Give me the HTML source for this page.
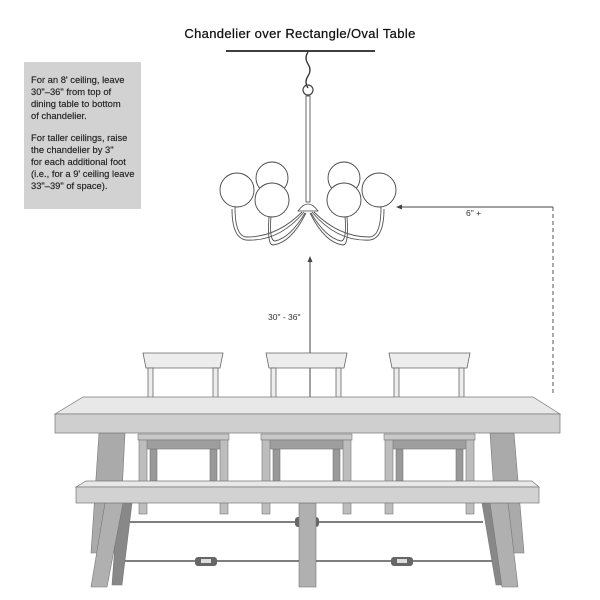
<!DOCTYPE html>
<html><head><style>
body{margin:0;background:#fff;}
svg{display:block}
text{font-family:"Liberation Sans",Arial,sans-serif;}
</style></head><body>
<svg width="600" height="600" viewBox="0 0 600 600" xmlns="http://www.w3.org/2000/svg">
<text x="300" y="38" font-size="13" text-anchor="middle" fill="#111" letter-spacing="0.35" stroke="#111" stroke-width="0.25">Chandelier over Rectangle/Oval Table</text>
<rect x="24" y="62" width="117" height="147" fill="#d2d2d2"/>
<g font-size="9.4" fill="#222" stroke="#222" stroke-width="0.15">
<text x="31" y="83">For an 8' ceiling, leave</text>
<text x="31" y="95">30"–36" from top of</text>
<text x="31" y="107">dining table to bottom</text>
<text x="31" y="119">of chandelier.</text>
<text x="31" y="141">For taller ceilings, raise</text>
<text x="31" y="153">the chandelier by 3"</text>
<text x="31" y="165">for each additional foot</text>
<text x="31" y="177">(i.e., for a 9' ceiling leave</text>
<text x="31" y="189">33"–39" of space).</text>
</g>
<!-- chandelier -->
<line x1="226" y1="51" x2="375" y2="51" stroke="#222" stroke-width="1.8"/>
<path d="M308 52 q-4 6 0 12 q4 6 0 12 q-4 6 0 12" fill="none" stroke="#333" stroke-width="1.3"/>
<circle cx="308" cy="90" r="5" fill="none" stroke="#444" stroke-width="1.2"/>
<rect x="306" y="96" width="4" height="106" fill="#fff" stroke="#444" stroke-width="0.8"/>
<path d="M298 211 q10 -14 20 0 z" fill="#fff" stroke="#444" stroke-width="0.8"/>
<g fill="none" stroke="#555" stroke-width="0.9">
<path d="M302 212 q-25 25 -55 25 q-12 0 -12 -30"/><path d="M304 212 q-25 30 -58 28 q-14 -2 -14 -31"/>
<path d="M305 213 q-15 25 -30 28 q-6 0 -4 -25"/><path d="M306 213 q-15 30 -33 32 q-6 0 -4 -28"/>
<path d="M314 212 q25 25 55 25 q12 0 12 -30"/><path d="M312 212 q25 30 58 28 q14 -2 14 -31"/>
<path d="M311 213 q15 25 30 28 q6 0 4 -25"/><path d="M310 213 q15 30 33 32 q6 0 4 -28"/>
</g>
<g fill="#fff" stroke="#444" stroke-width="0.9">
<circle cx="272" cy="178" r="16"/><circle cx="344" cy="178" r="16"/>
<circle cx="237" cy="190" r="17"/><circle cx="379" cy="190" r="17"/>
<circle cx="272" cy="200" r="17"/><circle cx="344" cy="200" r="17"/>
</g>
<!-- dimensions -->
<line x1="553" y1="207" x2="400" y2="207" stroke="#444" stroke-width="1"/>
<path d="M396 207 l6 -2.5 v5 z" fill="#444"/>
<line x1="553" y1="207" x2="553" y2="396" stroke="#555" stroke-width="1" stroke-dasharray="4,3"/>
<text x="466" y="216" font-size="8.5" fill="#333">6" +</text>
<line x1="310" y1="260" x2="310" y2="404" stroke="#444" stroke-width="1"/>
<path d="M310 256 l-2.5 6 h5 z M310 408 l-2.5 -6 h5 z" fill="#444"/>
<text x="268" y="320" font-size="8.5" fill="#333">30" - 36"</text>
<!-- chair backs -->
<g stroke="#666" stroke-width="0.8" fill="#ededed">
<path d="M143 353 h80 l-3 15 h-74 z"/><rect x="148" y="368" width="5" height="30"/><rect x="213" y="368" width="5" height="30"/>
<path d="M266 353 h81 l-3 15 h-75 z"/><rect x="271" y="368" width="5" height="30"/><rect x="336" y="368" width="5" height="30"/>
<path d="M389 353 h81 l-3 15 h-75 z"/><rect x="394" y="368" width="5" height="30"/><rect x="459" y="368" width="5" height="30"/>
</g>
<!-- table legs -->
<g stroke="#777" stroke-width="0.6">
<path d="M99 433 h26 l-6 120 h-28 z" fill="#aaa"/>
<path d="M490 433 h24 l10 120 h-26 z" fill="#aaa"/>
</g>
<!-- table top -->
<path d="M83 397 h450 l27 17 h-505 z" fill="#e8e8e8" stroke="#777" stroke-width="0.7"/>
<rect x="55" y="414" width="505" height="19" fill="#cfcfcf" stroke="#777" stroke-width="0.7"/>
<!-- seats -->
<g stroke="#777" stroke-width="0.6">
<g fill="#999"><rect x="150" y="449" width="7" height="32"/><rect x="210" y="449" width="7" height="32"/><rect x="273" y="449" width="7" height="32"/><rect x="333" y="449" width="7" height="32"/><rect x="396" y="449" width="7" height="32"/><rect x="456" y="449" width="7" height="32"/></g>
<g fill="#c8c8c8"><rect x="138" y="434" width="91" height="6"/><rect x="261" y="434" width="91" height="6"/><rect x="384" y="434" width="91" height="6"/></g>
<g fill="#9e9e9e"><rect x="146" y="440" width="75" height="9"/><rect x="269" y="440" width="75" height="9"/><rect x="392" y="440" width="75" height="9"/></g>
<g fill="#bdbdbd"><rect x="139" y="440" width="8" height="74"/><rect x="220" y="440" width="8" height="74"/><rect x="262" y="440" width="8" height="74"/><rect x="343" y="440" width="8" height="74"/><rect x="385" y="440" width="8" height="74"/><rect x="466" y="440" width="8" height="74"/></g>
</g>
<!-- rods -->
<g stroke="#555" stroke-width="1.6"><line x1="130" y1="522" x2="483" y2="522"/><line x1="120" y1="561" x2="495" y2="561"/></g>
<g fill="#666"><rect x="295" y="517" width="24" height="10" rx="3"/><rect x="195" y="557" width="22" height="9" rx="3"/><rect x="391" y="557" width="22" height="9" rx="3"/></g>
<g fill="#ddd"><rect x="201" y="559" width="10" height="4"/><rect x="397" y="559" width="10" height="4"/></g>
<!-- bench legs -->
<g stroke="#777" stroke-width="0.6">
<path d="M118 503 h14 l-10 82 h-10 z" fill="#888"/>
<path d="M105 503 h18 l-16 84 h-16 z" fill="#b0b0b0"/>
<path d="M482 503 h14 l10 82 h-10 z" fill="#888"/>
<path d="M490 503 h18 l10 84 h-16 z" fill="#b0b0b0"/>
<rect x="299" y="503" width="17" height="84" fill="#b0b0b0"/>
</g>
<!-- bench top -->
<path d="M86 481 h446 l7 6 h-463 z" fill="#e8e8e8" stroke="#777" stroke-width="0.7"/>
<rect x="76" y="487" width="463" height="16" fill="#d2d2d2" stroke="#777" stroke-width="0.7"/>
</svg>
</body></html>
